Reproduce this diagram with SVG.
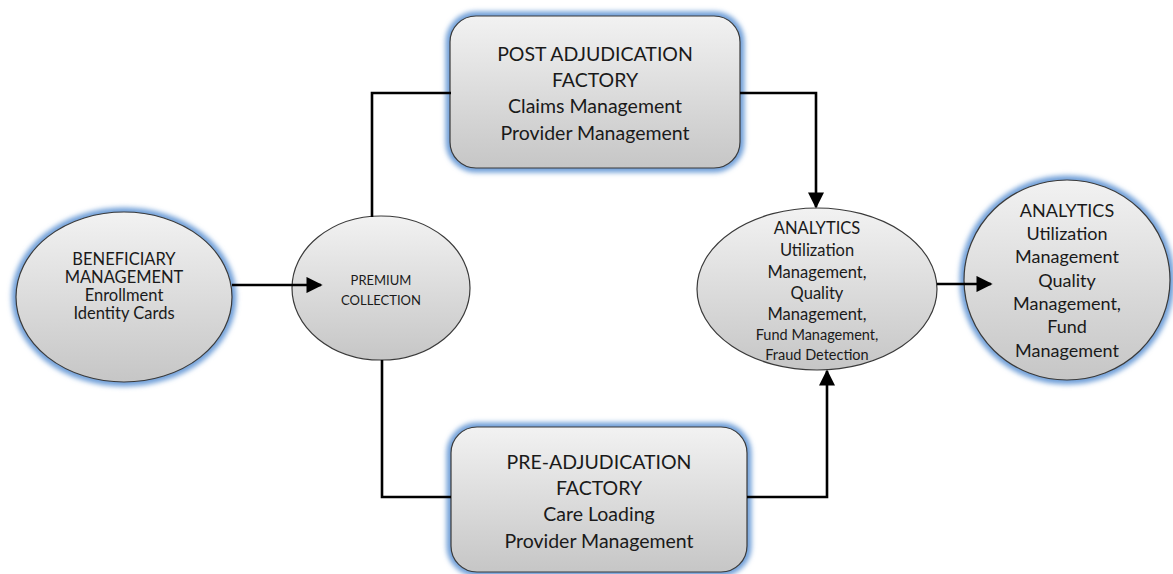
<svg xmlns="http://www.w3.org/2000/svg" width="1173" height="574" viewBox="0 0 1173 574">
<style>
.shape{fill:url(#g);stroke:#3a3a3a;stroke-width:1.2}
.glow{fill:none;stroke:#6f9fd8;stroke-width:9;filter:url(#blur)}
.t{font-family:Lato,"Liberation Sans",Arial,sans-serif;fill:#1a1a1a;text-anchor:middle}
.conn{fill:none;stroke:#000;stroke-width:2.6}
</style>
<defs>
<linearGradient id="g" x1="0" y1="0" x2="0" y2="1">
<stop offset="0" stop-color="#f2f2f2"/>
<stop offset="1" stop-color="#c6c6c6"/>
</linearGradient>
<filter id="blur" x="-20%" y="-20%" width="140%" height="140%"><feGaussianBlur stdDeviation="2.5"/></filter>
<marker id="ah" viewBox="0 0 10 10" refX="9" refY="5" markerWidth="6.2" markerHeight="6.2" orient="auto" markerUnits="strokeWidth">
<path d="M0,0 L10,5 L0,10 z" fill="#000"/>
</marker>
</defs>
<g id="beneficiary">
<ellipse class="glow" cx="124" cy="297" rx="108" ry="85"/>
<ellipse class="shape" cx="124" cy="297" rx="108" ry="85"/>
<text class="t" font-size="16.5"><tspan x="124" y="265">BENEFICIARY</tspan><tspan x="124" y="283">MANAGEMENT</tspan><tspan x="124" y="301">Enrollment</tspan><tspan x="124" y="319">Identity Cards</tspan></text>
</g>
<g id="premium">
<ellipse class="shape" cx="381" cy="288" rx="89" ry="72"/>
<text class="t" font-size="13"><tspan x="381" y="285">PREMIUM</tspan><tspan x="381" y="305">COLLECTION</tspan></text>
</g>
<g id="post">
<rect class="glow" x="450" y="16" width="290" height="152" rx="26"/>
<rect class="shape" x="450" y="16" width="290" height="152" rx="26"/>
<text class="t" font-size="19.5"><tspan x="595" y="61">POST ADJUDICATION</tspan><tspan x="595" y="87">FACTORY</tspan><tspan x="595" y="113">Claims Management</tspan><tspan x="595" y="140">Provider Management</tspan></text>
</g>
<g id="pre">
<rect class="glow" x="451" y="427" width="296" height="145" rx="26"/>
<rect class="shape" x="451" y="427" width="296" height="145" rx="26"/>
<text class="t" font-size="19.5"><tspan x="599" y="469">PRE-ADJUDICATION</tspan><tspan x="599" y="495">FACTORY</tspan><tspan x="599" y="521">Care Loading</tspan><tspan x="599" y="548">Provider Management</tspan></text>
</g>
<g id="analytics1">
<ellipse class="shape" cx="817" cy="289" rx="120" ry="81"/>
<text class="t" font-size="16.5"><tspan x="817" y="234">ANALYTICS</tspan><tspan x="817" y="256">Utilization</tspan><tspan x="817" y="278">Management,</tspan><tspan x="817" y="299">Quality</tspan><tspan x="817" y="320">Management,</tspan></text>
<text class="t" font-size="14.5"><tspan x="817" y="340">Fund Management,</tspan><tspan x="817" y="360">Fraud Detection</tspan></text>
</g>
<g id="analytics2">
<ellipse class="glow" cx="1067" cy="280" rx="103" ry="100"/>
<ellipse class="shape" cx="1067" cy="280" rx="103" ry="100"/>
<text class="t" font-size="18"><tspan x="1067" y="217">ANALYTICS</tspan><tspan x="1067" y="240">Utilization</tspan><tspan x="1067" y="263">Management</tspan><tspan x="1067" y="287">Quality</tspan><tspan x="1067" y="310">Management,</tspan><tspan x="1067" y="333">Fund</tspan><tspan x="1067" y="357">Management</tspan></text>
</g>
<g id="connectors">
<path class="conn" d="M232,285 L321,285" marker-end="url(#ah)"/>
<path class="conn" d="M372,217 L372,93 L451,93"/>
<path class="conn" d="M382,360 L382,497 L451,497"/>
<path class="conn" d="M740,93 L816,93 L816,207" marker-end="url(#ah)"/>
<path class="conn" d="M747,497 L827,497 L827,371" marker-end="url(#ah)"/>
<path class="conn" d="M937,284 L991,284" marker-end="url(#ah)"/>
</g>
</svg>
